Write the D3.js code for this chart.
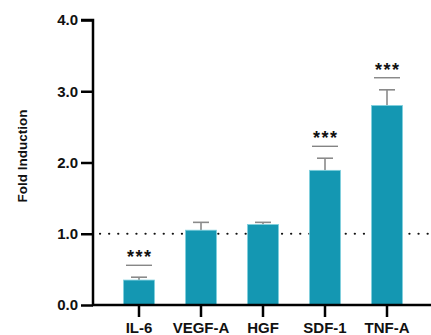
<!DOCTYPE html>
<html>
<head>
<meta charset="utf-8">
<script src="https://cdn.jsdelivr.net/npm/d3@7"></script>
<style>
  body { margin: 0; background: #fff; }
  text { font-family: "Liberation Sans", Arial, sans-serif; font-weight: bold; }
</style>
</head>
<body>
<svg width="431" height="335"></svg>
<script>
var categories = ["IL-6", "VEGF-A", "HGF", "SDF-1", "TNF-A"];
var values = [0.35, 1.05, 1.13, 1.89, 2.80];
var errors = [0.04, 0.11, 0.03, 0.17, 0.22];
var stars = ["***", "", "", "***", "***"];
var yTicks = [0, 1, 2, 3, 4];

var svg = d3.select("svg");

var x = d3.scaleBand()
    .domain(categories)
    .range([92.5, 433.5])
    .padding(0.5);

var y = d3.scaleLinear()
    .domain([0, 4])
    .range([305, 20]);

var barColor = "#1497b2";

// reference line at 1.0
svg.append("line")
    .attr("x1", 100)
    .attr("x2", 431)
    .attr("y1", y(1))
    .attr("y2", y(1))
    .attr("stroke", "#111")
    .attr("stroke-width", 2.2)
    .attr("stroke-linecap", "round")
    .attr("stroke-dasharray", "0.1,9");

// error bars
var eb = svg.append("g");
categories.forEach(function(c, i) {
    var cx = x(c) + x.bandwidth() / 2;
    eb.append("line")
        .attr("x1", cx).attr("x2", cx)
        .attr("y1", y(values[i])).attr("y2", y(values[i] + errors[i]))
        .attr("stroke", "#8a8a8a").attr("stroke-width", 1.6);
    eb.append("line")
        .attr("x1", cx - 8).attr("x2", cx + 8)
        .attr("y1", y(values[i] + errors[i])).attr("y2", y(values[i] + errors[i]))
        .attr("stroke", "#8a8a8a").attr("stroke-width", 1.6);
});

svg.append("g").selectAll("rect")
    .data(categories)
    .enter().append("rect")
    .attr("x", function(d) { return x(d); })
    .attr("y", function(d, i) { return y(values[i]); })
    .attr("width", x.bandwidth())
    .attr("height", function(d, i) { return y(0) - y(values[i]); })
    .attr("fill", barColor)
    .attr("stroke", "#7fd0de")
    .attr("stroke-width", 0.8);

// significance marks
categories.forEach(function(c, i) {
    if (!stars[i]) return;
    var cx = x(c) + x.bandwidth() / 2;
    var top = y(values[i] + errors[i]);
    svg.append("line")
        .attr("x1", cx - 13).attr("x2", cx + 13)
        .attr("y1", top - 12).attr("y2", top - 12)
        .attr("stroke", "#555").attr("stroke-width", 1);
    svg.append("text")
        .attr("x", cx + 0.8)
        .attr("y", top - 14)
        .attr("text-anchor", "middle")
        .attr("font-size", 18)
        .attr("letter-spacing", 1.5)
        .attr("fill", "#111")
        .text(stars[i]);
});

// axes
var yAxis = d3.axisLeft(y)
    .tickValues(yTicks)
    .tickFormat(d3.format(".1f"))
    .tickSize(12)
    .tickPadding(3);

svg.append("g")
    .attr("transform", "translate(93,0)")
    .call(yAxis)
    .call(function(g) {
        g.select(".domain").attr("stroke-width", 2.5).attr("d", "M-12," + y(4) + "H0V" + y(0));
        g.selectAll(".tick line").attr("stroke-width", 2.5);
        g.selectAll("text").attr("font-size", 15).attr("fill", "#111");
    });

var xAxis = d3.axisBottom(x)
    .tickSize(12)
    .tickPadding(5);

svg.append("g")
    .attr("transform", "translate(0," + y(0) + ")")
    .call(xAxis)
    .call(function(g) {
        g.select(".domain").attr("stroke-width", 2.5).attr("d", "M92,0H431");
        g.selectAll(".tick line").attr("stroke-width", 2.5);
        g.selectAll("text").attr("font-size", 15).attr("fill", "#111");
    });

svg.append("text")
    .attr("transform", "translate(27,156) rotate(-90)")
    .attr("text-anchor", "middle")
    .attr("font-size", 13.5)
    .attr("fill", "#111")
    .text("Fold Induction");
</script>
</body>
</html>
